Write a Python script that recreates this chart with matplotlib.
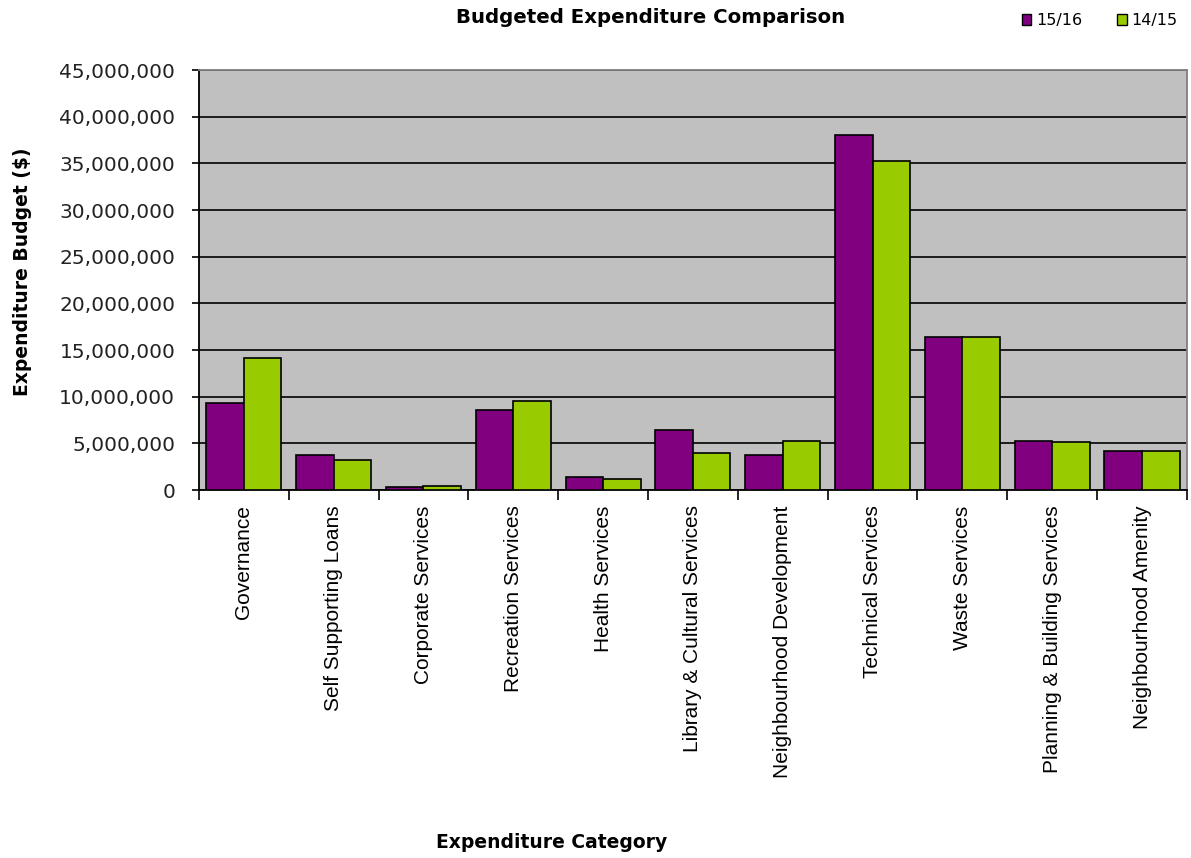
import matplotlib.pyplot as plt
import matplotlib.ticker as mticker
from matplotlib.patches import Patch
import numpy as np

categories = ["Governance", "Self Supporting Loans", "Corporate Services",
              "Recreation Services", "Health Services", "Library & Cultural Services",
              "Neighbourhood Development", "Technical Services", "Waste Services",
              "Planning & Building Services", "Neighbourhood Amenity"]
budget_1516 = [9.35e6, 3.8e6, 0.3e6, 8.6e6, 1.4e6, 6.4e6, 3.8e6, 38.0e6, 16.4e6, 5.25e6, 4.15e6]
budget_1415 = [14.1e6, 3.25e6, 0.48e6, 9.55e6, 1.2e6, 3.95e6, 5.25e6, 35.2e6, 16.4e6, 5.1e6, 4.15e6]
series_labels = ["15/16", "14/15"]

purple = "#800080"
green = "#99CC00"

fig = plt.figure(figsize=(11.91, 8.58), dpi=100)
ax = fig.add_axes([0.167, 0.4289, 0.8296, 0.4895])
ax.set_facecolor("#C0C0C0")

x = np.arange(len(categories))
w = 0.418
ax.bar(x - w / 2, budget_1516, width=w, color=purple, edgecolor="black", linewidth=1.2, zorder=3)
ax.bar(x + w / 2, budget_1415, width=w, color=green, edgecolor="black", linewidth=1.2, zorder=3)

ax.set_xlim(-0.5, len(categories) - 0.5)
ax.set_ylim(0, 45e6)
ax.yaxis.set_major_locator(mticker.MultipleLocator(5e6))
ax.yaxis.set_major_formatter(mticker.FuncFormatter(lambda v, p: f"{int(v):,}"))
ax.grid(axis="y", color="black", linewidth=1.2, zorder=1)

# category labels at centres, tick marks between categories
ax.set_xticks(x)
ax.set_xticklabels(categories, rotation=90, fontsize=15, family="Liberation Sans")
ax.set_xticks(np.arange(-0.5, len(categories)), minor=True)
ax.tick_params(axis="x", which="major", length=0, pad=11)
ax.tick_params(axis="x", which="minor", length=7, width=1.2, color="black")
ax.tick_params(axis="y", length=5, width=1.2, labelsize=14.5, pad=12, labelcolor="#222222")

for side in ["left", "bottom"]:
    ax.spines[side].set_color("black")
    ax.spines[side].set_linewidth(1.3)
for side in ["top", "right"]:
    ax.spines[side].set_color("#808080")
    ax.spines[side].set_linewidth(1.3)

fig.text(0.546, 0.98, "Budgeted Expenditure Comparison", ha="center", va="center",
         fontsize=14.2, fontweight="bold")
fig.text(0.463, 0.018, "Expenditure Category", ha="center", va="center",
         fontsize=13.5, fontweight="bold")
fig.text(0.019, 0.683, "Expenditure Budget ($)", ha="center", va="center",
         rotation=90, fontsize=13.5, fontweight="bold")

handles = [Patch(facecolor=purple, edgecolor="black", linewidth=1),
           Patch(facecolor=green, edgecolor="black", linewidth=1)]
fig.legend(handles, series_labels, loc="center right", bbox_to_anchor=(1.001, 0.976),
           ncol=2, frameon=False, fontsize=11.5, handlelength=0.6, handleheight=0.6,
           handletextpad=0.3, columnspacing=2.2)

fig.savefig("out.png", dpi=100)
